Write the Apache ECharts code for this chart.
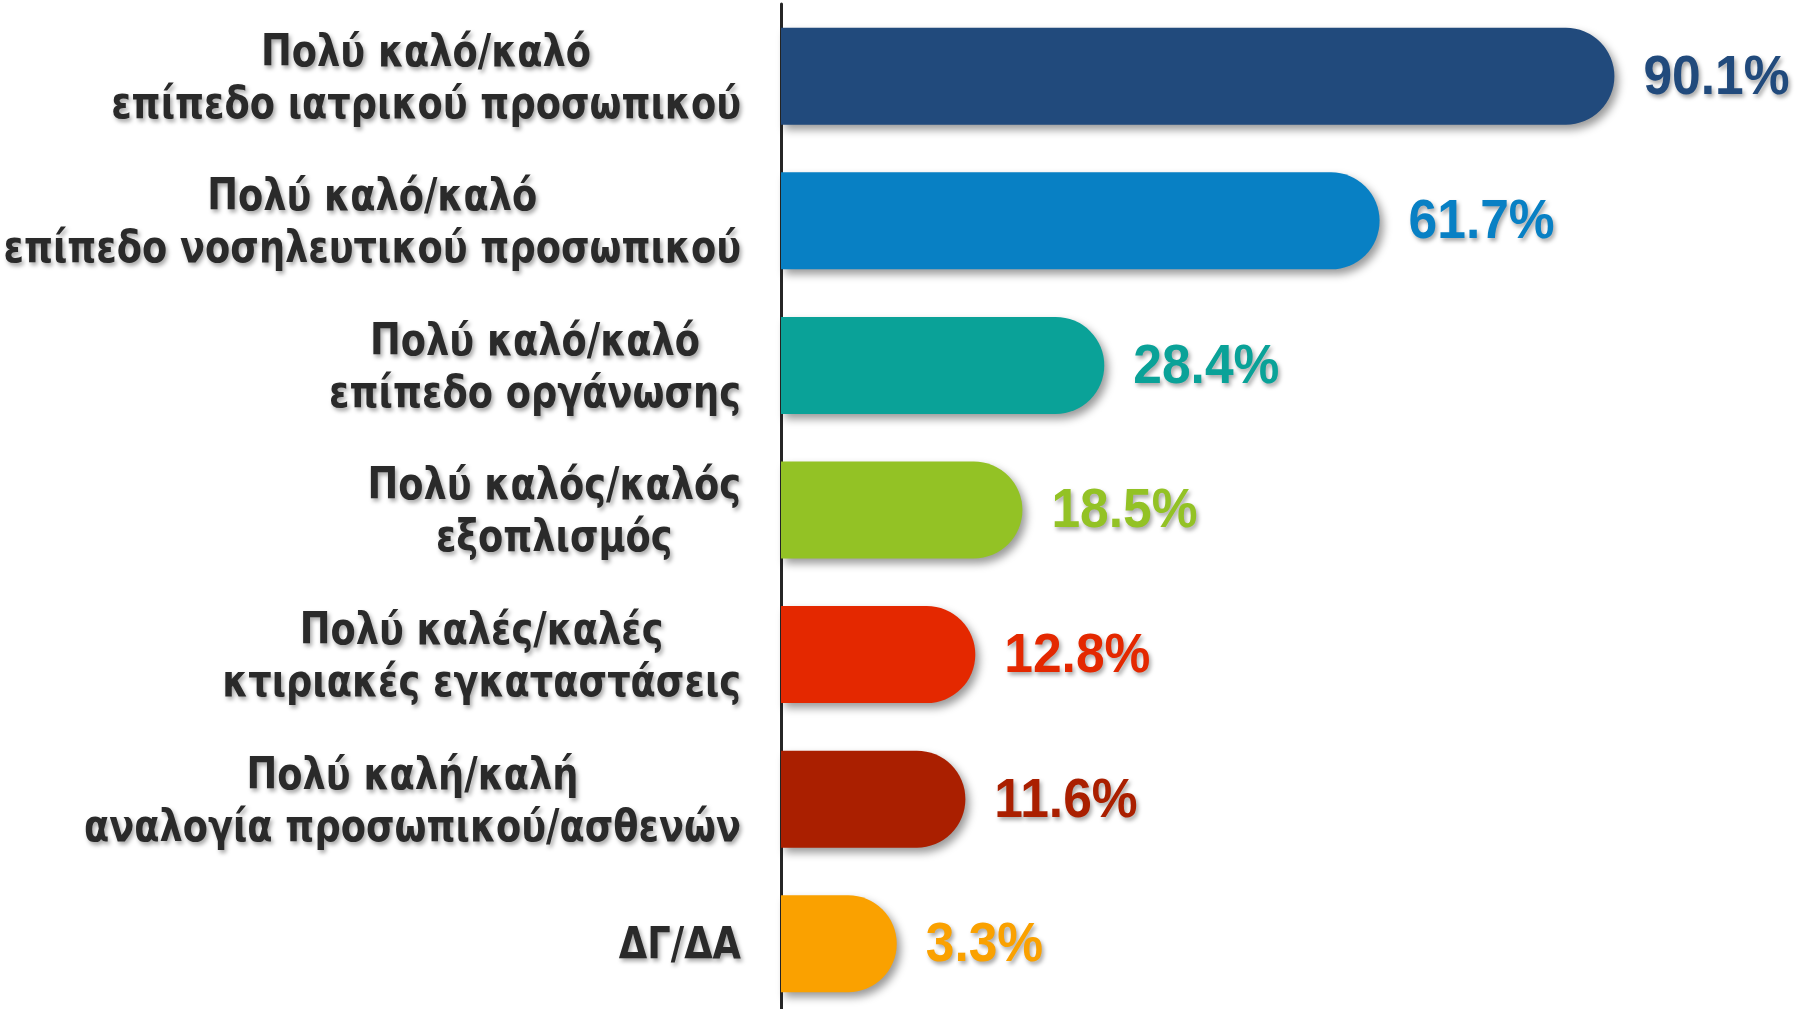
<!DOCTYPE html>
<html>
<head>
<meta charset="utf-8">
<script src="https://cdn.jsdelivr.net/npm/echarts@6/dist/echarts.min.js"></script>
<style>
  html, body { margin: 0; padding: 0; background: #fff; overflow: hidden; }
  #chart { width: 1812px; height: 1016px; }
</style>
</head>
<body>
<div id="chart"></div>
<script>
// categories (top to bottom) and values (%)
const categories = [
  'Πολύ καλό/καλό\nεπίπεδο ιατρικού προσωπικού',
  'Πολύ καλό/καλό\nεπίπεδο νοσηλευτικού προσωπικού',
  'Πολύ καλό/καλό\nεπίπεδο οργάνωσης',
  'Πολύ καλός/καλός\nεξοπλισμός',
  'Πολύ καλές/καλές\nκτιριακές εγκαταστάσεις',
  'Πολύ καλή/καλή\nαναλογία προσωπικού/ασθενών',
  'ΔΓ/ΔΑ'
];
const values = [90.1, 61.7, 28.4, 18.5, 12.8, 11.6, 3.3];
const colors = ['#214a7c', '#0880c4', '#0aa298', '#93c225', '#e42800', '#aa1f00', '#faa100'];

const xMin = -10.7;
const xMax = 114;

const catFont = 'bold 44px "DejaVu Sans"';
const catScaleX = 0.835;
const valFont = 'bold 56px "Liberation Sans"';
const valScaleX = 0.92;

// widest line of each label, so lines can be centered inside a right-aligned block
const ctx = document.createElement('canvas').getContext('2d');
ctx.font = catFont;
const labelWidths = categories.map(c =>
  Math.max(...c.split('\n').map(l => ctx.measureText(l).width)) * catScaleX);

const chart = echarts.init(document.getElementById('chart'));

const shadow = {
  textShadowColor: 'rgba(0,0,0,0.35)',
  textShadowBlur: 4,
  textShadowOffsetX: 2,
  textShadowOffsetY: 3
};

const renderItem = (params, api) => {
  const i = api.value(1);
  const v = api.value(0);
  const start = api.coord([xMin, i]);
  const end = api.coord([v, i]);
  const h = 97;
  const y = end[1];
  return {
    type: 'group',
    children: [
      {
        type: 'rect',
        shape: { x: start[0], y: y - h / 2, width: end[0] - start[0], height: h, r: [0, h / 2, h / 2, 0] },
        style: {
          fill: colors[i],
          shadowBlur: 8,
          shadowColor: 'rgba(0,0,0,0.4)',
          shadowOffsetX: 4,
          shadowOffsetY: 5
        }
      },
      {
        type: 'text',
        x: end[0] + 29,
        y: y + 2,
        scaleX: valScaleX,
        style: Object.assign({
          text: v.toFixed(1) + '%',
          font: valFont,
          fill: colors[i],
          align: 'left',
          verticalAlign: 'middle'
        }, shadow)
      },
      {
        type: 'text',
        x: start[0] - 40 - labelWidths[i] / 2,
        y: y + 4,
        scaleX: catScaleX,
        style: Object.assign({
          text: categories[i],
          font: catFont,
          fill: '#2a2a2a',
          align: 'center',
          verticalAlign: 'middle',
          lineHeight: 52
        }, shadow)
      }
    ]
  };
};

const option = {
  animation: false,
  grid: { left: 781, right: 0, top: 4, bottom: 0 },
  xAxis: {
    type: 'value',
    min: xMin,
    max: xMax,
    show: false,
    splitLine: { show: false }
  },
  yAxis: {
    type: 'category',
    data: categories,
    inverse: true,
    axisLine: { show: true, onZero: false, lineStyle: { color: '#262626', width: 3 } },
    axisTick: { show: false },
    axisLabel: { show: false }
  },
  series: [
    {
      type: 'custom',
      renderItem: renderItem,
      clip: false,
      data: values.map((v, i) => [v, i])
    }
  ]
};

chart.setOption(option);
</script>
</body>
</html>
